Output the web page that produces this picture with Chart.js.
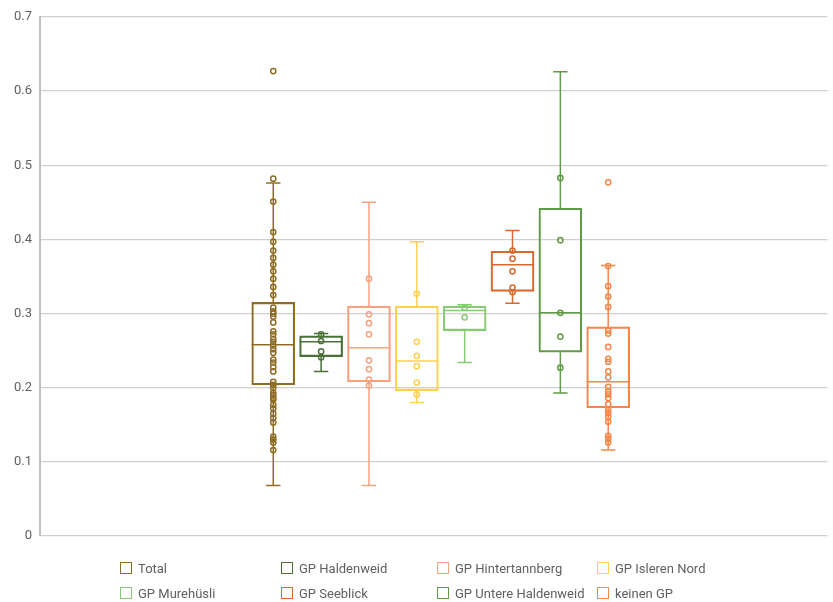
<!DOCTYPE html>
<html>
<head>
<meta charset="utf-8">
<script src="https://cdn.jsdelivr.net/npm/chart.js@4"></script>
<style>
    html, body { margin: 0; padding: 0; background: #ffffff; }
    #wrap { position: relative; width: 833px; height: 602px; }
    #legend { position: absolute; left: 0; top: 0; width: 833px; height: 602px; pointer-events: none;
              font-family: Roboto, sans-serif; font-size: 13px; color: #606060; }
    .item { position: absolute; display: flex; align-items: center; white-space: nowrap; }
    .swatch { width: 10px; height: 10px; border: 1.5px solid; margin-right: 6px; }
</style>
</head>
<body>
<div id="wrap">
    <canvas id="boxChart" width="833" height="602"></canvas>
    <div id="legend"></div>
</div>
<script>
/**
 * Box plot (Excel style) rebuilt with floating bars, line whiskers and scatter points
 */

const groups = ['Total', 'GP Haldenweid', 'GP Hintertannberg', 'GP Isleren Nord',
                'GP Murehüsli', 'GP Seeblick', 'GP Untere Haldenweid', 'keinen GP'];

const colors = ['#8E6D22', '#4A7038', '#F5A27E', '#FFD151',
                '#86CB74', '#D8692E', '#5F9B47', '#F2874A'];

// box statistics per group
const whiskerLow  = [0.068, 0.222, 0.068, 0.180, 0.234, 0.314, 0.193, 0.116];
const q1          = [0.204, 0.242, 0.208, 0.196, 0.277, 0.330, 0.248, 0.173];
const median      = [0.258, 0.262, 0.254, 0.236, 0.304, 0.366, 0.301, 0.208];
const q3          = [0.315, 0.270, 0.310, 0.310, 0.310, 0.384, 0.442, 0.282];
const whiskerHigh = [0.476, 0.273, 0.450, 0.397, 0.312, 0.412, 0.626, 0.365];

// individual points per group
const totalPts = [0.627, 0.482, 0.451, 0.410, 0.397, 0.385, 0.375, 0.366, 0.357, 0.347, 0.336,
                  0.325, 0.308, 0.303, 0.300, 0.296, 0.288, 0.276, 0.272, 0.266, 0.262, 0.257,
                  0.252, 0.247, 0.238, 0.234, 0.228, 0.222, 0.208, 0.204, 0.200, 0.193, 0.190,
                  0.186, 0.184, 0.177, 0.172, 0.165, 0.159, 0.153, 0.134, 0.130, 0.126, 0.116];
const haldenweidPts = [0.272, 0.263, 0.249, 0.241];
const hintertannbergPts = [0.347, 0.299, 0.287, 0.272, 0.237, 0.225, 0.211, 0.203];
const islerenNordPts = [0.327, 0.262, 0.243, 0.229, 0.207, 0.191];
const murehusliPts = [0.308, 0.295];
const seeblickPts = [0.385, 0.374, 0.357, 0.335, 0.329];
const untereHaldenweidPts = [0.483, 0.399, 0.301, 0.269, 0.227];
const keinenGpPts = [0.477, 0.364, 0.337, 0.323, 0.309, 0.277, 0.273, 0.255, 0.239, 0.235,
                     0.222, 0.214, 0.201, 0.195, 0.191, 0.186, 0.178, 0.170, 0.166, 0.161,
                     0.154, 0.135, 0.131, 0.126];

const points = [totalPts, haldenweidPts, hintertannbergPts, islerenNordPts,
                murehusliPts, seeblickPts, untereHaldenweidPts, keinenGpPts];

const yTicks = [0, 0.1, 0.2, 0.3, 0.4, 0.5, 0.6, 0.7];

// half widths in x units (one group = 1 unit)
const capHalf = 0.15;
const boxHalf = 0.45;

const datasets = [];
groups.forEach((name, i) => {
    const c = colors[i];

    // box Q1..Q3
    datasets.push({
        type: 'bar',
        label: name,
        data: [{ x: i, y: [q1[i], q3[i]] }],
        grouped: false,
        barThickness: 43,
        backgroundColor: 'rgba(255,255,255,0)',
        borderColor: c,
        borderWidth: 1.5,
        borderSkipped: false,
        order: 3
    });

    // whiskers, caps and median
    const gap = { x: i, y: null };
    datasets.push({
        type: 'line',
        label: name + ' whisker',
        data: [
            { x: i - capHalf, y: whiskerHigh[i] }, { x: i + capHalf, y: whiskerHigh[i] }, gap,
            { x: i, y: whiskerHigh[i] }, { x: i, y: q3[i] }, gap,
            { x: i, y: q1[i] }, { x: i, y: whiskerLow[i] }, gap,
            { x: i - capHalf, y: whiskerLow[i] }, { x: i + capHalf, y: whiskerLow[i] }, gap,
            { x: i - boxHalf, y: median[i] }, { x: i + boxHalf, y: median[i] }
        ],
        borderColor: c,
        borderWidth: 1.5,
        pointRadius: 0,
        spanGaps: false,
        fill: false,
        order: 2
    });

    // inner points and outliers
    datasets.push({
        type: 'scatter',
        label: name + ' points',
        data: points[i].map(v => ({ x: i, y: v })),
        pointRadius: 2.6,
        pointBorderWidth: 1.5,
        pointBorderColor: c,
        pointBackgroundColor: 'rgba(255,255,255,0)',
        order: 1
    });
});

const ctx = document.getElementById('boxChart');

new Chart(ctx, {
    type: 'bar',
    data: { datasets: datasets },
    options: {
        responsive: false,
        animation: false,
        events: [],
        layout: { padding: { top: 17, right: 3, bottom: 66, left: 0 } },
        plugins: {
            legend: { display: false },
            tooltip: { enabled: false }
        },
        scales: {
            x: {
                type: 'linear',
                min: -4.875,
                max: 11.583,
                offset: false,
                display: false
            },
            y: {
                type: 'linear',
                min: 0,
                max: 0.7,
                afterFit: function(scale) { scale.width = 40; },
                afterBuildTicks: function(scale) {
                    scale.ticks = yTicks.map(v => ({ value: v }));
                },
                border: { display: true, color: '#bfbfbf', width: 2 },
                grid: { color: '#d0d0d0', lineWidth: 1.3, drawTicks: false },
                ticks: {
                    color: '#606060',
                    padding: 8,
                    font: { family: 'Roboto', size: 13 },
                    callback: function(value) { return String(Math.round(value * 10) / 10); }
                }
            }
        }
    }
});

// legend in four columns, two rows
const legendX = [120, 281, 437, 597];
const legendY = [568, 593];
const legendEl = document.getElementById('legend');
groups.forEach((name, i) => {
    const item = document.createElement('div');
    item.className = 'item';
    item.style.left = legendX[i % 4] + 'px';
    item.style.top = (legendY[Math.floor(i / 4)] - 9) + 'px';
    item.style.height = '18px';
    const sw = document.createElement('span');
    sw.className = 'swatch';
    sw.style.borderColor = colors[i];
    const txt = document.createElement('span');
    txt.textContent = name;
    item.appendChild(sw);
    item.appendChild(txt);
    legendEl.appendChild(item);
});
</script>
</body>
</html>
